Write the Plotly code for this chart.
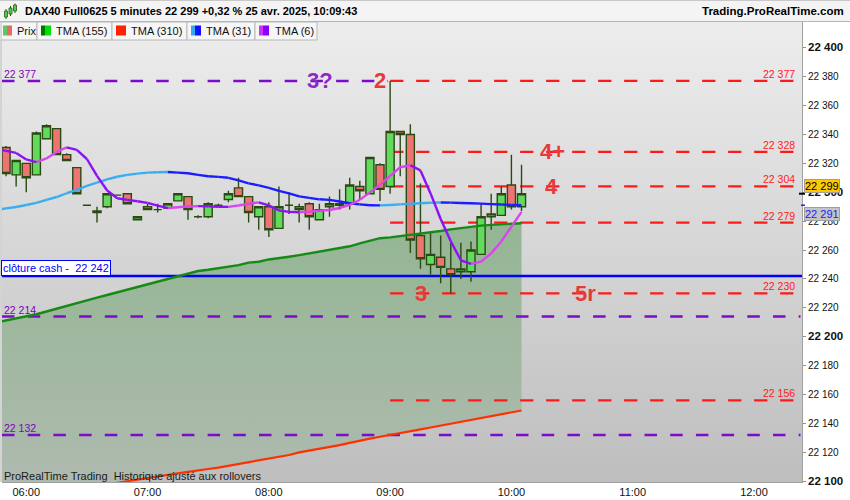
import plotly.graph_objects as go

DAY = "2025-04-25 "
times = ["05:45", "05:50", "05:55", "06:00", "06:05", "06:10", "06:15", "06:20", "06:25", "06:30",
         "06:35", "06:40", "06:45", "06:50", "06:55", "07:00", "07:05", "07:10", "07:15", "07:20",
         "07:25", "07:30", "07:35", "07:40", "07:45", "07:50", "07:55", "08:00", "08:05", "08:10",
         "08:15", "08:20", "08:25", "08:30", "08:35", "08:40", "08:45", "08:50", "08:55", "09:00",
         "09:05", "09:10", "09:15", "09:20", "09:25", "09:30", "09:35", "09:40", "09:45", "09:50",
         "09:55", "10:00", "10:05"]

opens = [22325, 22331, 22312, 22320, 22312, 22337, 22344, 22326, 22317, 22291,
         22287, 22290, 22298, 22299, 22281, 22290, 22288, 22289, 22294, 22297,
         22283, 22283, 22291, 22295, 22303, 22297, 22283, 22290, 22275, 22291,
         22290, 22292, 22281, 22290, 22292, 22292, 22304, 22299, 22319, 22304,
         22342, 22340, 22270, 22250, 22255, 22247, 22245, 22245, 22257, 22283,
         22284, 22305, 22290]
highs = [22333, 22332, 22322, 22320, 22342, 22347, 22344, 22327, 22317, 22291,
         22290, 22299, 22298, 22299, 22283, 22292, 22292, 22292, 22299, 22297,
         22284, 22293, 22292, 22301, 22310, 22297, 22290, 22293, 22304, 22300,
         22292, 22293, 22292, 22297, 22302, 22310, 22308, 22324, 22320, 22377,
         22342, 22347, 22306, 22272, 22270, 22265, 22265, 22266, 22292, 22299,
         22304, 22326, 22319]
lows = [22322, 22311, 22304, 22300, 22312, 22337, 22326, 22322, 22299, 22291,
        22279, 22289, 22298, 22292, 22281, 22288, 22286, 22289, 22294, 22281,
        22282, 22282, 22290, 22293, 22297, 22279, 22274, 22269, 22275, 22285,
        22279, 22274, 22281, 22283, 22288, 22288, 22295, 22299, 22294, 22299,
        22311, 22258, 22247, 22243, 22237, 22230, 22240, 22238, 22257, 22274,
        22284, 22288, 22287]
closes = [22331, 22313, 22322, 22310, 22341, 22346, 22326, 22322, 22299, 22291,
          22286, 22299, 22298, 22292, 22283, 22288, 22288, 22292, 22299, 22288,
          22283, 22292, 22291, 22299, 22297, 22286, 22290, 22274, 22290, 22291,
          22288, 22283, 22288, 22292, 22291, 22305, 22301, 22324, 22302, 22342,
          22340, 22267, 22254, 22257, 22248, 22243, 22247, 22260, 22283, 22285,
          22299, 22290, 22299]

tma6 = [22330.0, 22328.6, 22327.2, 22322.7, 22320.8, 22323.4, 22327.9, 22331.1, 22329.3, 22323.0,
        22311.3, 22301.2, 22295.8, 22294.7, 22293.8, 22292.6, 22290.7, 22289.0, 22289.6, 22290.1,
        22290.4, 22290.2, 22290.0, 22289.9, 22290.8, 22292.0, 22293.0, 22290.9, 22287.4, 22286.4,
        22286.2, 22286.6, 22287.2, 22287.7, 22289.1, 22291.2, 22294.7, 22299.9, 22305.1, 22311.3,
        22317.3, 22318.7, 22315.1, 22299.2, 22281.5, 22266.1, 22252.9, 22250.4, 22252.0, 22257.7,
        22265.9, 22276.2, 22286.4]
tma31 = [22287.8, 22288.8, 22289.8, 22291.2, 22292.6, 22294.7, 22296.7, 22299.3, 22301.7, 22304.4,
         22306.7, 22308.9, 22310.7, 22312.0, 22312.9, 22313.6, 22313.8, 22314.0, 22313.6, 22313.1,
         22312.0, 22311.1, 22310.6, 22310.0, 22308.2, 22306.1, 22304.8, 22303.0, 22300.9, 22299.2,
         22297.1, 22296.1, 22295.1, 22294.7, 22293.6, 22292.4, 22291.6, 22291.0, 22290.9, 22291.2,
         22291.6, 22292.0, 22292.4, 22292.7, 22292.9, 22292.8, 22292.6, 22292.4, 22292.1, 22291.8,
         22291.5, 22291.2, 22291.0]
tma155 = [22209.9, 22211.3, 22212.8, 22214.4, 22215.6, 22217.5, 22219.5, 22221.3, 22223.4, 22225.2,
          22227.1, 22228.9, 22230.7, 22232.4, 22234.5, 22236.4, 22238.2, 22240.0, 22241.9, 22243.6,
          22245.5, 22246.4, 22247.4, 22248.2, 22249.6, 22251.3, 22251.9, 22253.5, 22254.2, 22255.4,
          22256.5, 22257.7, 22259.1, 22260.3, 22261.5, 22262.6, 22264.6, 22266.6, 22268.2, 22268.8,
          22269.6, 22270.3, 22271.1, 22272.2, 22273.2, 22274.3, 22275.3, 22276.0, 22276.9, 22277.4,
          22277.8, 22278.2, 22278.5]
tma310 = [22085.0, 22086.0, 22087.0, 22088.0, 22089.5, 22090.5, 22092.0, 22093.0, 22094.0, 22095.5,
          22096.5, 22097.5, 22099.0, 22100.0, 22101.0, 22102.5, 22103.5, 22104.5, 22105.5, 22106.5,
          22107.7, 22108.5, 22109.5, 22110.7, 22111.8, 22113.0, 22114.2, 22115.4, 22116.8, 22118.2,
          22120.0, 22121.2, 22122.3, 22123.5, 22125.0, 22126.6, 22128.2, 22129.5, 22130.8, 22132.2,
          22133.4, 22134.7, 22135.9, 22137.2, 22138.5, 22140.0, 22141.3, 22142.6, 22144.0, 22145.3,
          22146.6, 22147.8, 22149.0]

red_levels = [22377, 22328, 22304, 22279, 22230, 22156]
red_start, red_end = "09:00", "12:23"
purple_levels = [22377, 22214, 22132]
purple_ends = ["08:59", "12:23", "12:23"]
cash_close = 22242
last_price = 22299
last_tma31 = 22291

wave_texts = ["3?", "2", "4+", "4", "3", "5r"]
wave_times = ["08:25:30", "08:55:00", "10:20:15", "10:20:00", "09:15:20", "10:36:30"]
wave_values = [22377, 22377, 22328, 22304, 22230, 22230]
wave_colors = ["#8a2ac8", "#e83a3a", "#e83a3a", "#e83a3a", "#e83a3a", "#e83a3a"]

y_ticks = list(range(22100, 22401, 20))
x_ticks = ["06:00", "07:00", "08:00", "09:00", "10:00", "11:00", "12:00"]

TITLE = "DAX40 Full0625 5 minutes 22 299 +0,32 % 25 avr. 2025, 10:09:43"

# ---------------------------------------------------------------- helpers
W, H = 850, 500
ML, MR, MT, MB = 2, 48, 22, 18
PW, PH = W - ML - MR, H - MT - MB
Y0, Y1 = 22099.5, 22417.8
X0, X1 = DAY + "05:48:00", DAY + "12:23:45"


def px(x):
    return (x - ML) / PW


def py(y):
    return (H - MB - y) / PH


def fmt(v):
    v = int(round(v))
    return f"{v // 1000} {v % 1000:03d}"


xs = [DAY + t for t in times]


def split_segments(xv, yv):
    up_x, up_y, dn_x, dn_y = [], [], [], []
    for i in range(1, len(xv)):
        if yv[i] >= yv[i - 1]:
            up_x += [xv[i - 1], xv[i], None]
            up_y += [yv[i - 1], yv[i], None]
        else:
            dn_x += [xv[i - 1], xv[i], None]
            dn_y += [yv[i - 1], yv[i], None]
    return up_x, up_y, dn_x, dn_y


fig = go.Figure()

# ---- base subplot (drawn first): background, cloud, dashed levels
fig.add_trace(go.Scatter(
    x=[DAY + "05:30", DAY + "12:40", DAY + "12:40", DAY + "05:30", DAY + "05:30"],
    y=[22000, 22000, 22500, 22500, 22000],
    fill="toself", mode="none",
    fillgradient=dict(type="vertical", start=Y0, stop=Y1,
                      colorscale=[[0, "#bebebe"], [1, "#ededed"]]),
    hoverinfo="skip"))

fig.add_trace(go.Scatter(x=xs, y=tma310, mode="lines", line=dict(width=0), hoverinfo="skip"))
fig.add_trace(go.Scatter(
    x=xs, y=tma155, mode="lines", line=dict(width=0), fill="tonexty",
    fillgradient=dict(type="vertical", start=22100, stop=22285,
                      colorscale=[[0, "#aebaae"], [1, "#93b693"]]),
    hoverinfo="skip"))

for lv, end in zip(purple_levels, purple_ends):
    fig.add_trace(go.Scatter(x=[X0, DAY + end], y=[lv, lv], mode="lines",
                             line=dict(color="#7c0ccc", width=2.5, dash="12.5px,13.2px")))
for lv in red_levels:
    fig.add_trace(go.Scatter(x=[DAY + red_start, DAY + red_end], y=[lv, lv], mode="lines",
                             line=dict(color="#ff1a1a", width=2.2, dash="13.3px,12.7px")))

fig.add_trace(go.Scatter(x=[X0, X1], y=[cash_close, cash_close], mode="lines",
                         line=dict(color="#0000ff", width=2.5)))

# ---- overlay subplot (drawn on top): candles and moving averages
fig.add_trace(go.Candlestick(
    x=xs, open=opens, high=highs, low=lows, close=closes,
    increasing=dict(line=dict(color="#2a4a12", width=1.4), fillcolor="#62da5e"),
    decreasing=dict(line=dict(color="#2a4a12", width=1.4), fillcolor="#ee7474"),
    whiskerwidth=0, hoverinfo="skip", xaxis="x2", yaxis="y2"))

fig.add_trace(go.Scatter(x=xs, y=tma310, mode="lines", line=dict(color="#ff3000", width=2.2),
                         xaxis="x2", yaxis="y2"))
fig.add_trace(go.Scatter(x=xs, y=tma155, mode="lines", line=dict(color="#168a16", width=2.4),
                         xaxis="x2", yaxis="y2"))

ux, uy, dx, dy = split_segments(xs, tma31)
fig.add_trace(go.Scatter(x=ux, y=uy, mode="lines", line=dict(color="#38aef0", width=2.4),
                         xaxis="x2", yaxis="y2"))
fig.add_trace(go.Scatter(x=dx, y=dy, mode="lines", line=dict(color="#1c1cff", width=2.4),
                         xaxis="x2", yaxis="y2"))

ux, uy, dx, dy = split_segments(xs, tma6)
fig.add_trace(go.Scatter(x=ux, y=uy, mode="lines", line=dict(color="#dc44ee", width=2.4),
                         xaxis="x2", yaxis="y2"))
fig.add_trace(go.Scatter(x=dx, y=dy, mode="lines", line=dict(color="#8c10f8", width=2.4),
                         xaxis="x2", yaxis="y2"))

# ---------------------------------------------------------------- annotations
ann = []
for lv in red_levels:
    ann.append(dict(x=px(797), xref="paper", y=lv, yref="y", text=fmt(lv), showarrow=False,
                    xanchor="right", yanchor="middle", yshift=7,
                    font=dict(size=10.5, color="#ff2020")))
for lv in purple_levels:
    ann.append(dict(x=px(1.5), xref="paper", y=lv, yref="y", text=fmt(lv), showarrow=False,
                    xanchor="left", yanchor="middle", yshift=7,
                    font=dict(size=10.5, color="#8000c0")))
for t, tm, v, c in zip(wave_texts, wave_times, wave_values, wave_colors):
    ann.append(dict(x=DAY + tm, y=v, text="<b>" + t + "</b>", showarrow=False,
                    xanchor="center", yanchor="middle",
                    font=dict(size=22, color=c, family="Liberation Sans, Arial")))

ann.append(dict(x=px(0.5), xref="paper", y=cash_close, yref="y", yshift=0,
                text="clôture cash -  " + fmt(cash_close), showarrow=False,
                xanchor="left", yanchor="bottom", bgcolor="white", bordercolor="#0000ff",
                borderwidth=1, borderpad=1, font=dict(size=11, color="#0000ff")))

ann.append(dict(x=px(804), xref="paper", y=last_price, yref="y", yshift=7.4,
                text=fmt(last_price), showarrow=False, xanchor="left", yanchor="middle",
                bgcolor="#ffc800", bordercolor="#a0a0a0", borderwidth=1, borderpad=0,
                font=dict(size=11, color="#000000")))
ann.append(dict(x=px(804), xref="paper", y=last_tma31, yref="y", yshift=-9.2,
                text=fmt(last_tma31), showarrow=False, xanchor="left", yanchor="middle",
                bgcolor="#c4c4c4", bordercolor="#a0a0a0", borderwidth=1, borderpad=0,
                font=dict(size=11, color="#2020ff")))

ann.append(dict(x=px(2), xref="paper", y=py(476), yref="paper",
                text="ProRealTime Trading  Historique ajusté aux rollovers", showarrow=False,
                xanchor="left", yanchor="middle", font=dict(size=11, color="#1a1a1a")))

ann.append(dict(x=px(23), xref="paper", y=py(11.5), yref="paper", text="<b>" + TITLE + "</b>",
                showarrow=False, xanchor="left", yanchor="middle",
                font=dict(size=11, color="#000000")))
ann.append(dict(x=px(846), xref="paper", y=py(11.5), yref="paper",
                text="<b>Trading.ProRealTime.com</b>", showarrow=False, xanchor="right",
                yanchor="middle", font=dict(size=11.5, color="#000000")))

tab_edges = [1, 37, 112, 187, 255, 317]
tab_names = ["Prix", "TMA (155)", "TMA (310)", "TMA (31)", "TMA (6)"]
tab_text_x = [15, 54, 129, 204, 272.5]
tab_swatches = [[("#5ec85e", 3, 7), ("#e46a6a", 7, 12)],
                [("#007800", 41, 45), ("#00e000", 45, 51)],
                [("#ff2200", 116, 126)],
                [("#33aaee", 191, 195), ("#1010ff", 195, 201)],
                [("#cc33ee", 259, 263), ("#8800ff", 263, 269)]]
for name, tx in zip(tab_names, tab_text_x):
    ann.append(dict(x=px(tx), xref="paper", y=py(31), yref="paper", text=name, showarrow=False,
                    xanchor="left", yanchor="middle", font=dict(size=11, color="#111111")))

shapes = []
shapes.append(dict(type="rect", xref="paper", yref="paper", x0=px(-2), x1=px(852),
                   y0=py(0), y1=py(21.5), fillcolor="#f4f4f4", line=dict(width=0), layer="above"))
shapes.append(dict(type="line", xref="paper", yref="paper", x0=px(-2), x1=px(852),
                   y0=py(0.5), y1=py(0.5), line=dict(color="#c8c8c8", width=1)))
shapes.append(dict(type="line", xref="paper", yref="paper", x0=px(-2), x1=px(852),
                   y0=py(21.5), y1=py(21.5), line=dict(color="#b4b4b4", width=1)))
for (a, b, c, d, e, f) in [(4.5, 7.5, 11, 17, 9, 19), (9, 12, 8, 14, 6, 16), (13.5, 16.5, 5, 11, 3.5, 13)]:
    shapes.append(dict(type="line", xref="paper", yref="paper", x0=px((a + b) / 2), x1=px((a + b) / 2),
                       y0=py(e), y1=py(f), line=dict(color="#2a5a12", width=1)))
    shapes.append(dict(type="rect", xref="paper", yref="paper", x0=px(a), x1=px(b),
                       y0=py(c), y1=py(d), fillcolor="#50d050", line=dict(color="#2a5a12", width=0.8)))
for i in range(len(tab_names)):
    shapes.append(dict(type="rect", xref="paper", yref="paper", x0=px(tab_edges[i]), x1=px(tab_edges[i + 1]),
                       y0=py(22), y1=py(40), fillcolor="#f6f6f6", line=dict(color="#b8b8b8", width=1)))
    for col, a, b in tab_swatches[i]:
        shapes.append(dict(type="rect", xref="paper", yref="paper", x0=px(a), x1=px(b),
                           y0=py(25.5), y1=py(35.5), fillcolor=col, line=dict(width=0)))
shapes.append(dict(type="line", xref="paper", yref="paper", x0=px(1), x1=px(1),
                   y0=py(40), y1=py(482), line=dict(color="#a8a8a8", width=1)))
shapes.append(dict(type="line", xref="paper", yref="y", x0=px(799), x1=px(805),
                   y0=last_price, y1=last_price, line=dict(color="#000000", width=2)))
shapes.append(dict(type="line", xref="paper", yref="y", x0=px(801), x1=px(805),
                   y0=last_tma31, y1=last_tma31, line=dict(color="#2020ff", width=1.5)))

y_text = [("<b><span style='font-size:11.5px'>" + fmt(v) + "</span></b>") if v % 100 == 0 else fmt(v)
          for v in y_ticks]

fig.update_layout(
    width=W, height=H,
    margin=dict(l=ML, r=MR, t=MT, b=MB, pad=0),
    paper_bgcolor="white", plot_bgcolor="#d6d6d6",
    showlegend=False, hovermode=False,
    boxgap=0.2, boxgroupgap=0,
    font=dict(family="Liberation Sans, Arial, sans-serif", color="#111111"),
    annotations=ann, shapes=shapes,
    xaxis=dict(type="date", range=[X0, X1], showgrid=False, zeroline=False,
               showline=True, linecolor="#a0a0a0", linewidth=1,
               tickvals=[DAY + t for t in x_ticks], ticktext=x_ticks, ticks="",
               tickfont=dict(size=11, color="#111111"), automargin=False,
               rangeslider=dict(visible=False), fixedrange=True),
    yaxis=dict(side="right", range=[Y0, Y1], showgrid=False, zeroline=False,
               showline=True, linecolor="#a0a0a0", linewidth=1,
               tickvals=y_ticks, ticktext=y_text, ticks="outside", ticklen=3,
               tickcolor="#909090", tickfont=dict(size=10, color="#111111"),
               automargin=False, fixedrange=True),
    xaxis2=dict(type="date", range=[X0, X1], overlaying="x", visible=False,
                rangeslider=dict(visible=False), fixedrange=True),
    yaxis2=dict(range=[Y0, Y1], overlaying="y", visible=False, fixedrange=True),
)

fig.write_html("out.html", config={"displayModeBar": False, "staticPlot": True},
               post_script="document.body.style.margin='0';document.body.style.padding='0';"
                           "document.body.style.overflow='hidden';")
